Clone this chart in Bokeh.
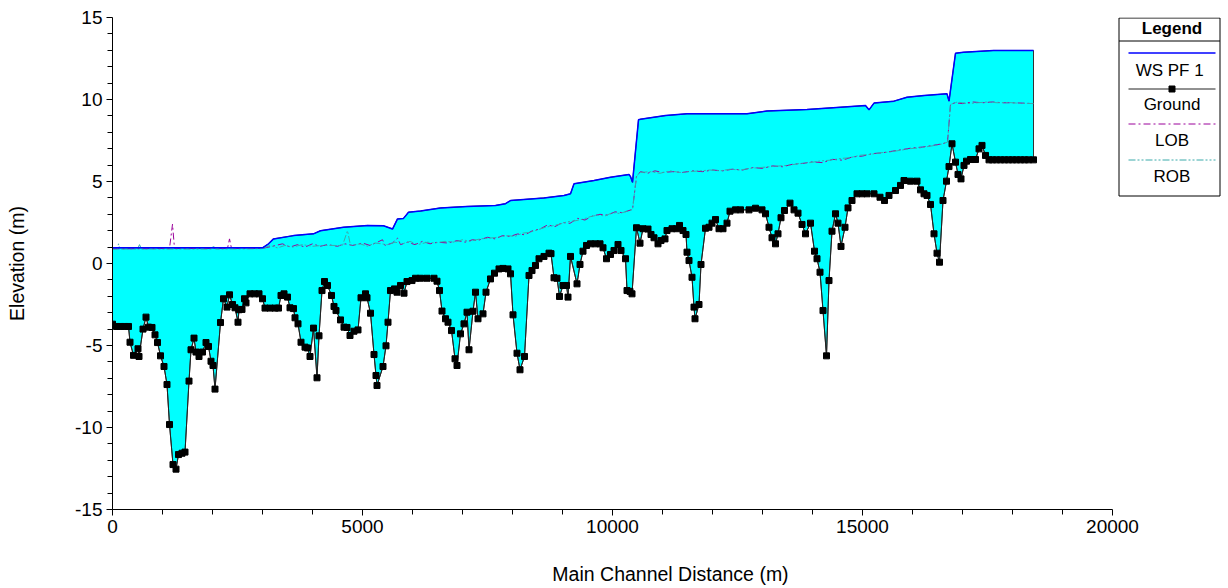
from bokeh.plotting import figure
from bokeh.models import Range1d, FixedTicker
from bokeh.embed import file_html
from bokeh.resources import INLINE
from bokeh.core.properties import value

# ---------------- data ----------------
ground_dist = [
    0, 80, 160, 240, 320, 350, 420, 510, 530, 610,
    670, 720, 790, 850, 900, 960, 1030, 1090, 1140, 1210,
    1270, 1320, 1390, 1450, 1530, 1570, 1630, 1670, 1730, 1800,
    1870, 1920, 1970, 2010, 2050, 2160, 2220, 2290, 2340, 2400,
    2450, 2510, 2530, 2590, 2640, 2670, 2750, 2840, 2930, 3000,
    3050, 3150, 3250, 3320, 3370, 3430, 3500, 3550, 3620, 3650,
    3710, 3770, 3850, 3900, 3950, 4020, 4090, 4130, 4190, 4240,
    4300, 4380, 4430, 4470, 4560, 4630, 4690, 4750, 4830, 4910,
    4970, 5060, 5090, 5160, 5230, 5270, 5290, 5410, 5470, 5510,
    5560, 5640, 5690, 5760, 5830, 5890, 5990, 6060, 6160, 6290,
    6430, 6490, 6540, 6590, 6660, 6710, 6780, 6850, 6890, 6960,
    7030, 7090, 7130, 7210, 7260, 7310, 7410, 7470, 7560, 7640,
    7730, 7810, 7910, 7960, 8010, 8090, 8150, 8240, 8330, 8390,
    8460, 8530, 8630, 8730, 8770, 8830, 8890, 8940, 9010, 9080,
    9110, 9160, 9290, 9350, 9410, 9480, 9560, 9660, 9750, 9810,
    9880, 9960, 10030, 10110, 10170, 10260, 10290, 10350, 10390, 10480,
    10550, 10610, 10710, 10770, 10830, 10910, 10970, 11050, 11090, 11190,
    11280, 11340, 11410, 11470, 11490, 11530, 11590, 11630, 11650, 11730,
    11770, 11860, 11930, 11990, 12060, 12130, 12210, 12290, 12350, 12460,
    12560, 12730, 12860, 12990, 13060, 13130, 13190, 13260, 13310, 13370,
    13440, 13550, 13630, 13710, 13790, 13860, 13960, 14040, 14090, 14150,
    14210, 14280, 14330, 14390, 14460, 14510, 14570, 14650, 14710, 14790,
    14890, 14990, 15090, 15230, 15350, 15440, 15530, 15660, 15760, 15830,
    15960, 16090, 16160, 16230, 16290, 16360, 16430, 16490, 16540, 16610,
    16680, 16730, 16790, 16860, 16910, 16970, 17030, 17080, 17160, 17260,
    17330, 17390, 17460, 17530, 17600, 17680, 17760, 17840, 17920, 18000,
    18080, 18160, 18240, 18320, 18420,
]
ground_elev = [
    -3.70, -3.84, -3.84, -3.84, -3.84, -4.80, -5.60, -5.20, -5.67, -4.00,
    -3.27, -3.88, -3.90, -4.35, -4.82, -5.63, -6.28, -7.38, -9.82, -12.26,
    -12.54, -11.65, -11.57, -11.50, -7.17, -5.26, -4.55, -5.40, -5.67, -5.40,
    -4.82, -5.06, -5.96, -6.22, -7.66, -3.60, -2.15, -2.66, -1.91, -2.50,
    -2.70, -3.58, -2.82, -2.80, -2.15, -2.40, -1.85, -1.85, -1.85, -2.15,
    -2.72, -2.72, -2.72, -2.72, -1.95, -1.85, -2.05, -2.70, -2.75, -3.31,
    -3.68, -4.80, -5.10, -5.15, -5.67, -3.94, -6.97, -4.41, -1.65, -1.10,
    -1.34, -1.95, -2.62, -2.87, -3.44, -3.88, -3.90, -4.39, -4.13, -4.05,
    -2.09, -1.85, -2.09, -3.03, -5.55, -6.83, -7.44, -6.28, -5.02, -3.58,
    -1.65, -1.55, -1.75, -1.34, -1.81, -1.10, -1.04, -0.90, -0.90, -0.90,
    -0.90, -1.08, -1.65, -2.90, -3.37, -3.58, -4.09, -5.81, -6.22, -4.29,
    -3.68, -2.97, -5.26, -2.91, -1.75, -3.37, -3.07, -1.75, -0.94, -0.59,
    -0.33, -0.30, -0.33, -0.63, -3.13, -5.47, -6.48, -5.67, -0.73, -0.43,
    -0.12, 0.29, 0.43, 0.63, 0.60, -0.87, -0.90, -2.01, -1.34, -1.34,
    -2.05, 0.43, -1.24, -0.06, 0.75, 1.10, 1.20, 1.20, 1.20, 0.96,
    0.29, 0.55, 0.79, 1.16, 0.79, 0.29, -1.65, -1.70, -1.85, 2.18,
    1.24, 2.12, 2.10, 1.77, 1.57, 1.20, 1.40, 1.50, 2.01, 2.12,
    2.12, 2.32, 2.01, 1.77, 0.69, 0.18, -0.84, -2.66, -3.37, -2.50,
    -0.06, 2.15, 2.21, 2.46, 2.68, 2.12, 2.12, 2.46, 3.19, 3.27,
    3.27, 3.27, 3.37, 3.27, 3.03, 2.21, 1.57, 1.20, 1.81, 2.79,
    3.23, 3.68, 3.27, 3.07, 2.38, 1.81, 2.46, 0.75, 0.29, -0.53,
    -2.87, -5.63, -1.04, 1.97, 3.03, 2.46, 1.04, 2.21, 3.39, 3.84,
    4.25, 4.25, 4.25, 4.25, 4.04, 3.84, 4.15, 4.45, 4.76, 5.06,
    5.02, 5.02, 4.49, 4.25, 4.15, 3.60, 1.81, 0.63, 0.08, 3.84,
    5.02, 5.91, 7.30, 6.18, 5.43, 5.16, 5.98, 6.24, 6.34, 6.34,
    6.99, 7.20, 6.59, 6.32, 6.32, 6.32, 6.32, 6.32, 6.32, 6.32,
    6.32, 6.32, 6.32, 6.32, 6.32,
]

ws_dist = [
    0, 3000, 3120, 3220, 3620, 4020, 4160, 4620, 5100, 5420,
    5560, 5600, 5700, 5820, 5920, 6160, 6560, 7090, 7660, 7860,
    7960, 8630, 9030, 9160, 9230, 9630, 9960, 10330, 10360, 10400,
    10520, 10560, 11060, 11490, 12690, 13090, 13890, 14560, 15060, 15130,
    15230, 15630, 15890, 16230, 16690, 16730, 16860, 17020, 17620, 18420,
]
ws_elev = [
    0.96, 0.96, 1.20, 1.50, 1.70, 1.81, 2.00, 2.21, 2.32, 2.30,
    2.15, 2.10, 2.72, 2.75, 3.13, 3.20, 3.39, 3.48, 3.54, 3.65,
    3.84, 4.00, 4.15, 4.25, 4.86, 5.06, 5.26, 5.43, 5.30, 4.95,
    8.76, 8.80, 9.02, 9.13, 9.13, 9.30, 9.39, 9.53, 9.63, 9.37,
    9.78, 9.90, 10.14, 10.24, 10.35, 9.90, 12.82, 12.88, 12.99, 12.99,
]

lob_dist = [
    0, 600, 1140, 1200, 1240, 2300, 2340, 2380, 3000, 3200,
    3400, 3550, 3700, 3850, 4000, 4150, 4300, 4500, 4650, 4800,
    5000, 5150, 5300, 5400, 5450, 5600, 5700, 5760, 5900, 6050,
    6200, 6350, 6500, 6700, 6900, 7050, 7200, 7300, 7500, 7650,
    7800, 7950, 8100, 8250, 8400, 8550, 8700, 8850, 9000, 9150,
    9300, 9450, 9600, 9750, 9900, 10050, 10200, 10350, 10400, 10480,
    10560, 10700, 10850, 11000, 11200, 11400, 11600, 11800, 12000, 12200,
    12400, 12600, 12800, 13000, 13200, 13400, 13600, 13800, 14000, 14200,
    14400, 14600, 14800, 15000, 15200, 15400, 15600, 15800, 16000, 16200,
    16400, 16600, 16700, 16760, 16850, 17000, 17200, 17400, 17600, 17800,
    18000, 18200, 18420,
]
lob_elev = [
    0.90, 0.90, 0.92, 2.40, 0.92, 0.92, 1.50, 0.92, 0.92, 1.05,
    1.20, 1.00, 1.15, 1.00, 1.20, 1.05, 1.15, 1.05, 1.20, 1.10,
    1.25, 1.10, 1.30, 1.45, 1.10, 1.25, 1.55, 1.15, 1.30, 1.15,
    1.35, 1.20, 1.30, 1.25, 1.40, 1.30, 1.45, 1.40, 1.60, 1.50,
    1.70, 1.65, 1.80, 1.75, 2.00, 2.10, 2.35, 2.25, 2.50, 2.45,
    2.75, 2.65, 2.90, 3.00, 2.95, 3.15, 3.10, 3.25, 3.30, 5.30,
    5.60, 5.50, 5.65, 5.55, 5.60, 5.55, 5.65, 5.60, 5.70, 5.65,
    5.75, 5.70, 5.85, 5.80, 5.95, 5.90, 6.05, 6.10, 6.20, 6.15,
    6.35, 6.30, 6.50, 6.55, 6.70, 6.75, 6.85, 6.95, 7.05, 7.10,
    7.20, 7.30, 7.40, 9.70, 9.80, 9.75, 9.85, 9.80, 9.85, 9.80,
    9.80, 9.78, 9.75,
]

rob_dist = [
    0, 100, 120, 150, 500, 540, 580, 2000, 2020, 2060,
    3000, 3150, 3300, 3450, 3600, 3800, 4000, 4200, 4600, 4700,
    4760, 4950, 5100, 5250, 5500, 5650, 5800, 5950, 6100, 6300,
    6450, 6650, 6850, 7000, 7150, 7350, 7550, 7700, 7900, 8050,
    8200, 8350, 8500, 8650, 8800, 8950, 9100, 9250, 9400, 9550,
    9700, 9850, 10000, 10150, 10300, 10400, 10480, 10560, 10750, 10950,
    11150, 11350, 11550, 11750, 11950, 12150, 12350, 12550, 12750, 12950,
    13150, 13350, 13550, 13750, 13950, 14150, 14350, 14550, 14750, 14950,
    15150, 15350, 15550, 15750, 15950, 16150, 16350, 16550, 16700, 16760,
    16900, 17100, 17300, 17500, 17700, 17900, 18100, 18300, 18420,
]
rob_elev = [
    0.88, 0.88, 1.20, 0.88, 0.88, 1.15, 0.88, 0.88, 1.10, 0.88,
    0.90, 1.10, 0.95, 1.10, 1.00, 1.15, 1.05, 1.10, 1.10, 2.00,
    1.10, 1.20, 1.05, 1.25, 1.15, 1.30, 1.20, 1.35, 1.15, 1.30,
    1.25, 1.35, 1.30, 1.45, 1.35, 1.50, 1.55, 1.60, 1.70, 1.65,
    1.85, 1.90, 2.05, 2.20, 2.30, 2.40, 2.55, 2.60, 2.70, 2.85,
    2.95, 2.90, 3.10, 3.05, 3.20, 3.28, 5.35, 5.55, 5.60, 5.50,
    5.65, 5.55, 5.60, 5.65, 5.70, 5.65, 5.75, 5.70, 5.80, 5.85,
    5.90, 5.95, 6.00, 6.10, 6.15, 6.25, 6.30, 6.40, 6.45, 6.60,
    6.65, 6.75, 6.80, 6.90, 7.00, 7.05, 7.15, 7.25, 7.40, 9.70,
    9.85, 9.75, 9.80, 9.85, 9.80, 9.82, 9.78, 9.76, 9.75,
]

x_major_ticks = [0, 5000, 10000, 15000, 20000]
x_minor_ticks = [1000, 2000, 3000, 4000, 6000, 7000, 8000, 9000, 11000, 12000,
                 13000, 14000, 16000, 17000, 18000, 19000]
y_major_ticks = [-15, -10, -5, 0, 5, 10, 15]
y_minor_ticks = [-14, -13, -12, -11, -9, -8, -7, -6, -4, -3, -2, -1,
                 1, 2, 3, 4, 6, 7, 8, 9, 11, 12, 13, 14]
legend_title = "Legend"
legend_labels = ["WS  PF 1", "Ground", "LOB", "ROB"]

# ---------------- styling / layout ----------------
FONT = "Liberation Sans"
W, H = 1228, 588
BL, BR, BT, BB = 112, 0, 17, 79
M_PER_PX = 20.0
x_end = (W - BL - BR) * M_PER_PX
Y0, Y1 = -15, 15

WS_COLOR = "#0000FF"
FILL_COLOR = "#00FFFF"
LOB_COLOR = "#9A009A"
ROB_COLOR = "#3AAAAA"

p = figure(width=W, height=H, x_range=Range1d(0, x_end), y_range=Range1d(Y0, Y1),
           output_backend="svg", toolbar_location=None,
           min_border_left=BL, min_border_right=BR, min_border_top=BT, min_border_bottom=BB)
p.outline_line_color = None
p.xgrid.visible = False
p.ygrid.visible = False
p.background_fill_color = "white"
p.border_fill_color = "white"

for ax in (p.xaxis[0], p.yaxis[0]):
    ax.axis_line_color = "black"
    ax.axis_line_width = 1
    ax.major_tick_line_color = "black"
    ax.minor_tick_line_color = "black"
    ax.major_tick_in = 0
    ax.minor_tick_in = 0
    ax.major_tick_out = 6
    ax.minor_tick_out = 5
    ax.major_label_text_font = FONT
    ax.major_label_text_font_size = "19px"
    ax.major_label_text_color = "black"
    ax.axis_label_text_font = FONT
    ax.axis_label_text_font_size = "19.5px"
    ax.axis_label_text_font_style = "normal"
    ax.axis_label_text_color = "black"

p.xaxis[0].ticker = FixedTicker(ticks=x_major_ticks, minor_ticks=x_minor_ticks)
p.xaxis[0].bounds = (x_major_ticks[0], x_major_ticks[-1])
p.xaxis[0].axis_label = "Main Channel Distance (m)"
p.xaxis[0].major_label_standoff = 4
p.xaxis[0].axis_label_standoff = 27

p.yaxis[0].ticker = FixedTicker(ticks=y_major_ticks, minor_ticks=y_minor_ticks)
p.yaxis[0].major_label_overrides = {t: str(t) for t in y_major_ticks}
p.yaxis[0].bounds = (Y0, Y1)
p.yaxis[0].axis_label = "Elevation (m)"
p.yaxis[0].major_label_standoff = 4
p.yaxis[0].axis_label_standoff = 44

# water body between water surface and ground
poly_x = ws_dist + ground_dist[::-1]
poly_y = ws_elev + ground_elev[::-1]
p.patch(poly_x, poly_y, fill_color=FILL_COLOR, line_color="#333333", line_width=1)

p.line(lob_dist, lob_elev, line_color=LOB_COLOR, line_width=1, line_dash="7 3 2 3")
p.line(rob_dist, rob_elev, line_color=ROB_COLOR, line_width=1, line_dash="7 2 2 2 2 2")
p.line(ws_dist, ws_elev, line_color=WS_COLOR, line_width=1.5)
p.line(ground_dist, ground_elev, line_color="#222222", line_width=1)
p.scatter(ground_dist, ground_elev, marker="square", size=6,
          fill_color="black", line_color="black")

# ---------------- legend (drawn inside the right margin of the frame) ----------------
frame_h = H - BT - BB


def lx(page_x):
    return (page_x - BL) * M_PER_PX


def ly(page_y):
    return Y1 - (page_y - BT) * (Y1 - Y0) / frame_h


box_l, box_r, box_t, box_b = 1118.5, 1219.5, 17.5, 195.5
p.quad(left=[lx(box_l)], right=[lx(box_r)], top=[ly(box_t)], bottom=[ly(box_b)],
       fill_color="white", line_color="black", line_width=1)
p.line([lx(box_l), lx(box_r)], [ly(40.5), ly(40.5)], line_color="black", line_width=1)

s_l, s_r, s_c = 1128, 1215, 1171.5
p.line([lx(s_l), lx(s_r)], [ly(52.5)] * 2, line_color=WS_COLOR, line_width=1.5)
p.line([lx(s_l), lx(s_r)], [ly(88.5)] * 2, line_color="#222222", line_width=1)
p.scatter([lx(s_c)], [ly(88.5)], marker="square", size=6, fill_color="black", line_color="black")
p.line([lx(s_l), lx(s_r)], [ly(123.5)] * 2, line_color=LOB_COLOR, line_width=1, line_dash="7 3 2 3")
p.line([lx(s_l), lx(s_r)], [ly(159.5)] * 2, line_color=ROB_COLOR, line_width=1, line_dash="7 2 2 2 2 2")

p.text(x=[lx(s_c)], y=[ly(28)], text=[legend_title], text_font=value(FONT),
       text_font_size="17px", text_font_style="bold", text_align="center",
       text_baseline="middle", text_color="black")
p.text(x=[lx(s_c)] * 4, y=[ly(70), ly(104), ly(140), ly(176)], text=legend_labels,
       text_font=value(FONT), text_font_size="17px", text_align="center",
       text_baseline="middle", text_color="black")

open("out.html", "w").write(file_html(p, INLINE))
